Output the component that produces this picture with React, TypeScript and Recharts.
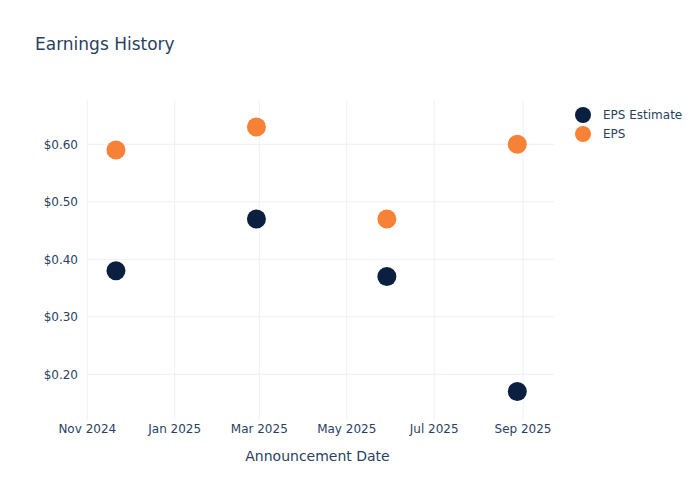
import React from "react";
import {
  ScatterChart,
  Scatter,
  XAxis,
  YAxis,
  CartesianGrid,
  Label,
} from "recharts";

const announceDates = ["2024-11-21", "2025-02-27", "2025-05-29", "2025-08-28"];
const epsEstimate = [0.38, 0.47, 0.37, 0.17];
const epsActual = [0.59, 0.63, 0.47, 0.6];
const xTickDates = [
  "2024-11-01",
  "2025-01-01",
  "2025-03-01",
  "2025-05-01",
  "2025-07-01",
  "2025-09-01",
];
const yTicks = [0.2, 0.3, 0.4, 0.5, 0.6];

const FONT = "'DejaVu Sans', Verdana, sans-serif";
const TEXT = "#2a3f5f";
const GRID = "#ebf0f8";
const NAVY = "#0b1f41";
const ORANGE = "#f78136";

const ts = (d: string) => new Date(d + "T00:00:00Z").getTime();
const DAY = 86400000;

const estimateData = announceDates.map((d, i) => ({ x: ts(d), y: epsEstimate[i] }));
const actualData = announceDates.map((d, i) => ({ x: ts(d), y: epsActual[i] }));
const xTicks = xTickDates.map(ts);
const xDomain = [ts("2024-11-01") - 0.2 * DAY, ts("2025-09-01") + 21.6 * DAY];

const MONTHS = ["Jan", "Feb", "Mar", "Apr", "May", "Jun", "Jul", "Aug", "Sep", "Oct", "Nov", "Dec"];
const fmtDate = (v: number) => {
  const d = new Date(v);
  return `${MONTHS[d.getUTCMonth()]} ${d.getUTCFullYear()}`;
};

const series = [
  { name: "EPS Estimate", color: NAVY, data: estimateData },
  { name: "EPS", color: ORANGE, data: actualData },
];

const dot = (color: string) => (props: any) => (
  <circle cx={props.cx} cy={props.cy} r={9.5} fill={color} />
);

export default function App() {
  return (
    <div
      style={{
        position: "absolute",
        left: 0,
        top: 0,
        width: 700,
        height: 500,
        background: "#fff",
        fontFamily: FONT,
      }}
    >
      <div
        style={{
          position: "absolute",
          left: 35,
          top: 34,
          fontSize: 17,
          color: TEXT,
          lineHeight: "20px",
        }}
      >
        Earnings History
      </div>
      <div style={{ position: "absolute", left: 575, top: 105 }}>
        {series.map((s) => (
          <div
            key={s.name}
            style={{ display: "flex", alignItems: "center", height: 19 }}
          >
            <svg width={16} height={16}>
              <circle cx={8} cy={8} r={8} fill={s.color} />
            </svg>
            <span style={{ marginLeft: 12, fontSize: 12, color: TEXT }}>
              {s.name}
            </span>
          </div>
        ))}
      </div>
      <ScatterChart
        width={700}
        height={500}
        margin={{ top: 100, right: 146, bottom: 34, left: 0 }}
        style={{ fontFamily: FONT }}
      >
        <CartesianGrid stroke={GRID} strokeWidth={1} syncWithTicks />
        <XAxis
          type="number"
          dataKey="x"
          domain={xDomain}
          ticks={xTicks}
          tickFormatter={fmtDate}
          allowDataOverflow
          axisLine={false}
          tickLine={false}
          tickSize={0}
          tickMargin={4}
          height={46}
          tick={{ fill: TEXT, fontSize: 12 }}
        >
          <Label
            value="Announcement Date"
            position="insideBottom"
            offset={5}
            dx={-3}
            style={{ fill: TEXT, fontSize: 14 }}
          />
        </XAxis>
        <YAxis
          type="number"
          dataKey="y"
          domain={[0.1205, 0.677]}
          ticks={yTicks}
          allowDataOverflow
          tickFormatter={(v: number) => `$${v.toFixed(2)}`}
          axisLine={false}
          tickLine={false}
          tickSize={0}
          tickMargin={9}
          width={87}
          tick={{ fill: TEXT, fontSize: 12 }}
        />
        {series.map((s) => (
          <Scatter
            key={s.name}
            name={s.name}
            data={s.data}
            fill={s.color}
            shape={dot(s.color)}
            isAnimationActive={false}
          />
        ))}
      </ScatterChart>
    </div>
  );
}
